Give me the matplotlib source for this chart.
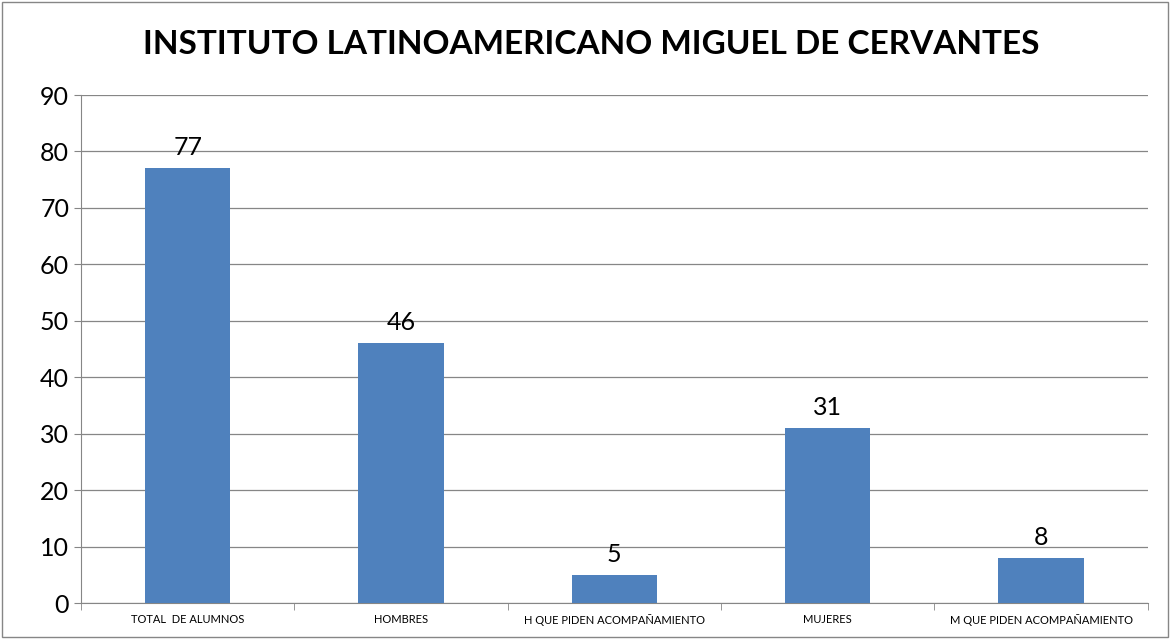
import matplotlib.pyplot as plt
import numpy as np

categorias = ['TOTAL  DE ALUMNOS', 'HOMBRES', 'H QUE PIDEN ACOMPAÑAMIENTO',
              'MUJERES', 'M QUE PIDEN ACOMPAÑAMIENTO']
valores = [77, 46, 5, 31, 8]

plt.rcParams['font.family'] = ['Lato', 'DejaVu Sans']

fig = plt.figure(figsize=(11.7, 6.39), dpi=100)
ax = fig.add_axes([0.0692, 0.0563, 0.9118, 0.795])

x = np.arange(len(categorias))
bars = ax.bar(x, valores, width=0.4, color='#4F81BD', zorder=3)

for b, v in zip(bars, valores):
    ax.text(b.get_x() + b.get_width() / 2, v + 1.6, str(v),
            ha='center', va='bottom', fontsize=18)

ax.set_xlim(-0.5, len(categorias) - 0.5)
ax.set_ylim(0, 90)
ax.set_yticks(range(0, 91, 10))
ax.tick_params(axis='y', labelsize=18, length=5, color='#868686')
ax.set_xticks(x)
ax.set_xticklabels(categorias, fontsize=8)
ax.tick_params(axis='x', length=0, pad=8)
ax.set_xticks(np.arange(-0.5, len(categorias), 1), minor=True)
ax.tick_params(axis='x', which='minor', length=5, color='#868686')

ax.grid(axis='y', color='#868686', linewidth=0.9, zorder=0)
for s in ['top', 'right']:
    ax.spines[s].set_visible(False)
ax.spines['left'].set_color('#868686')
ax.spines['bottom'].set_color('#868686')

fig.text(0.505, 0.93, 'INSTITUTO LATINOAMERICANO MIGUEL DE CERVANTES',
         ha='center', va='center', fontsize=24, fontweight='bold')

border = plt.Rectangle((0.002, 0.003), 0.996, 0.994, transform=fig.transFigure,
                       fill=False, edgecolor='#868686', linewidth=1)
fig.patches.append(border)

fig.savefig('out.png', dpi=100)
